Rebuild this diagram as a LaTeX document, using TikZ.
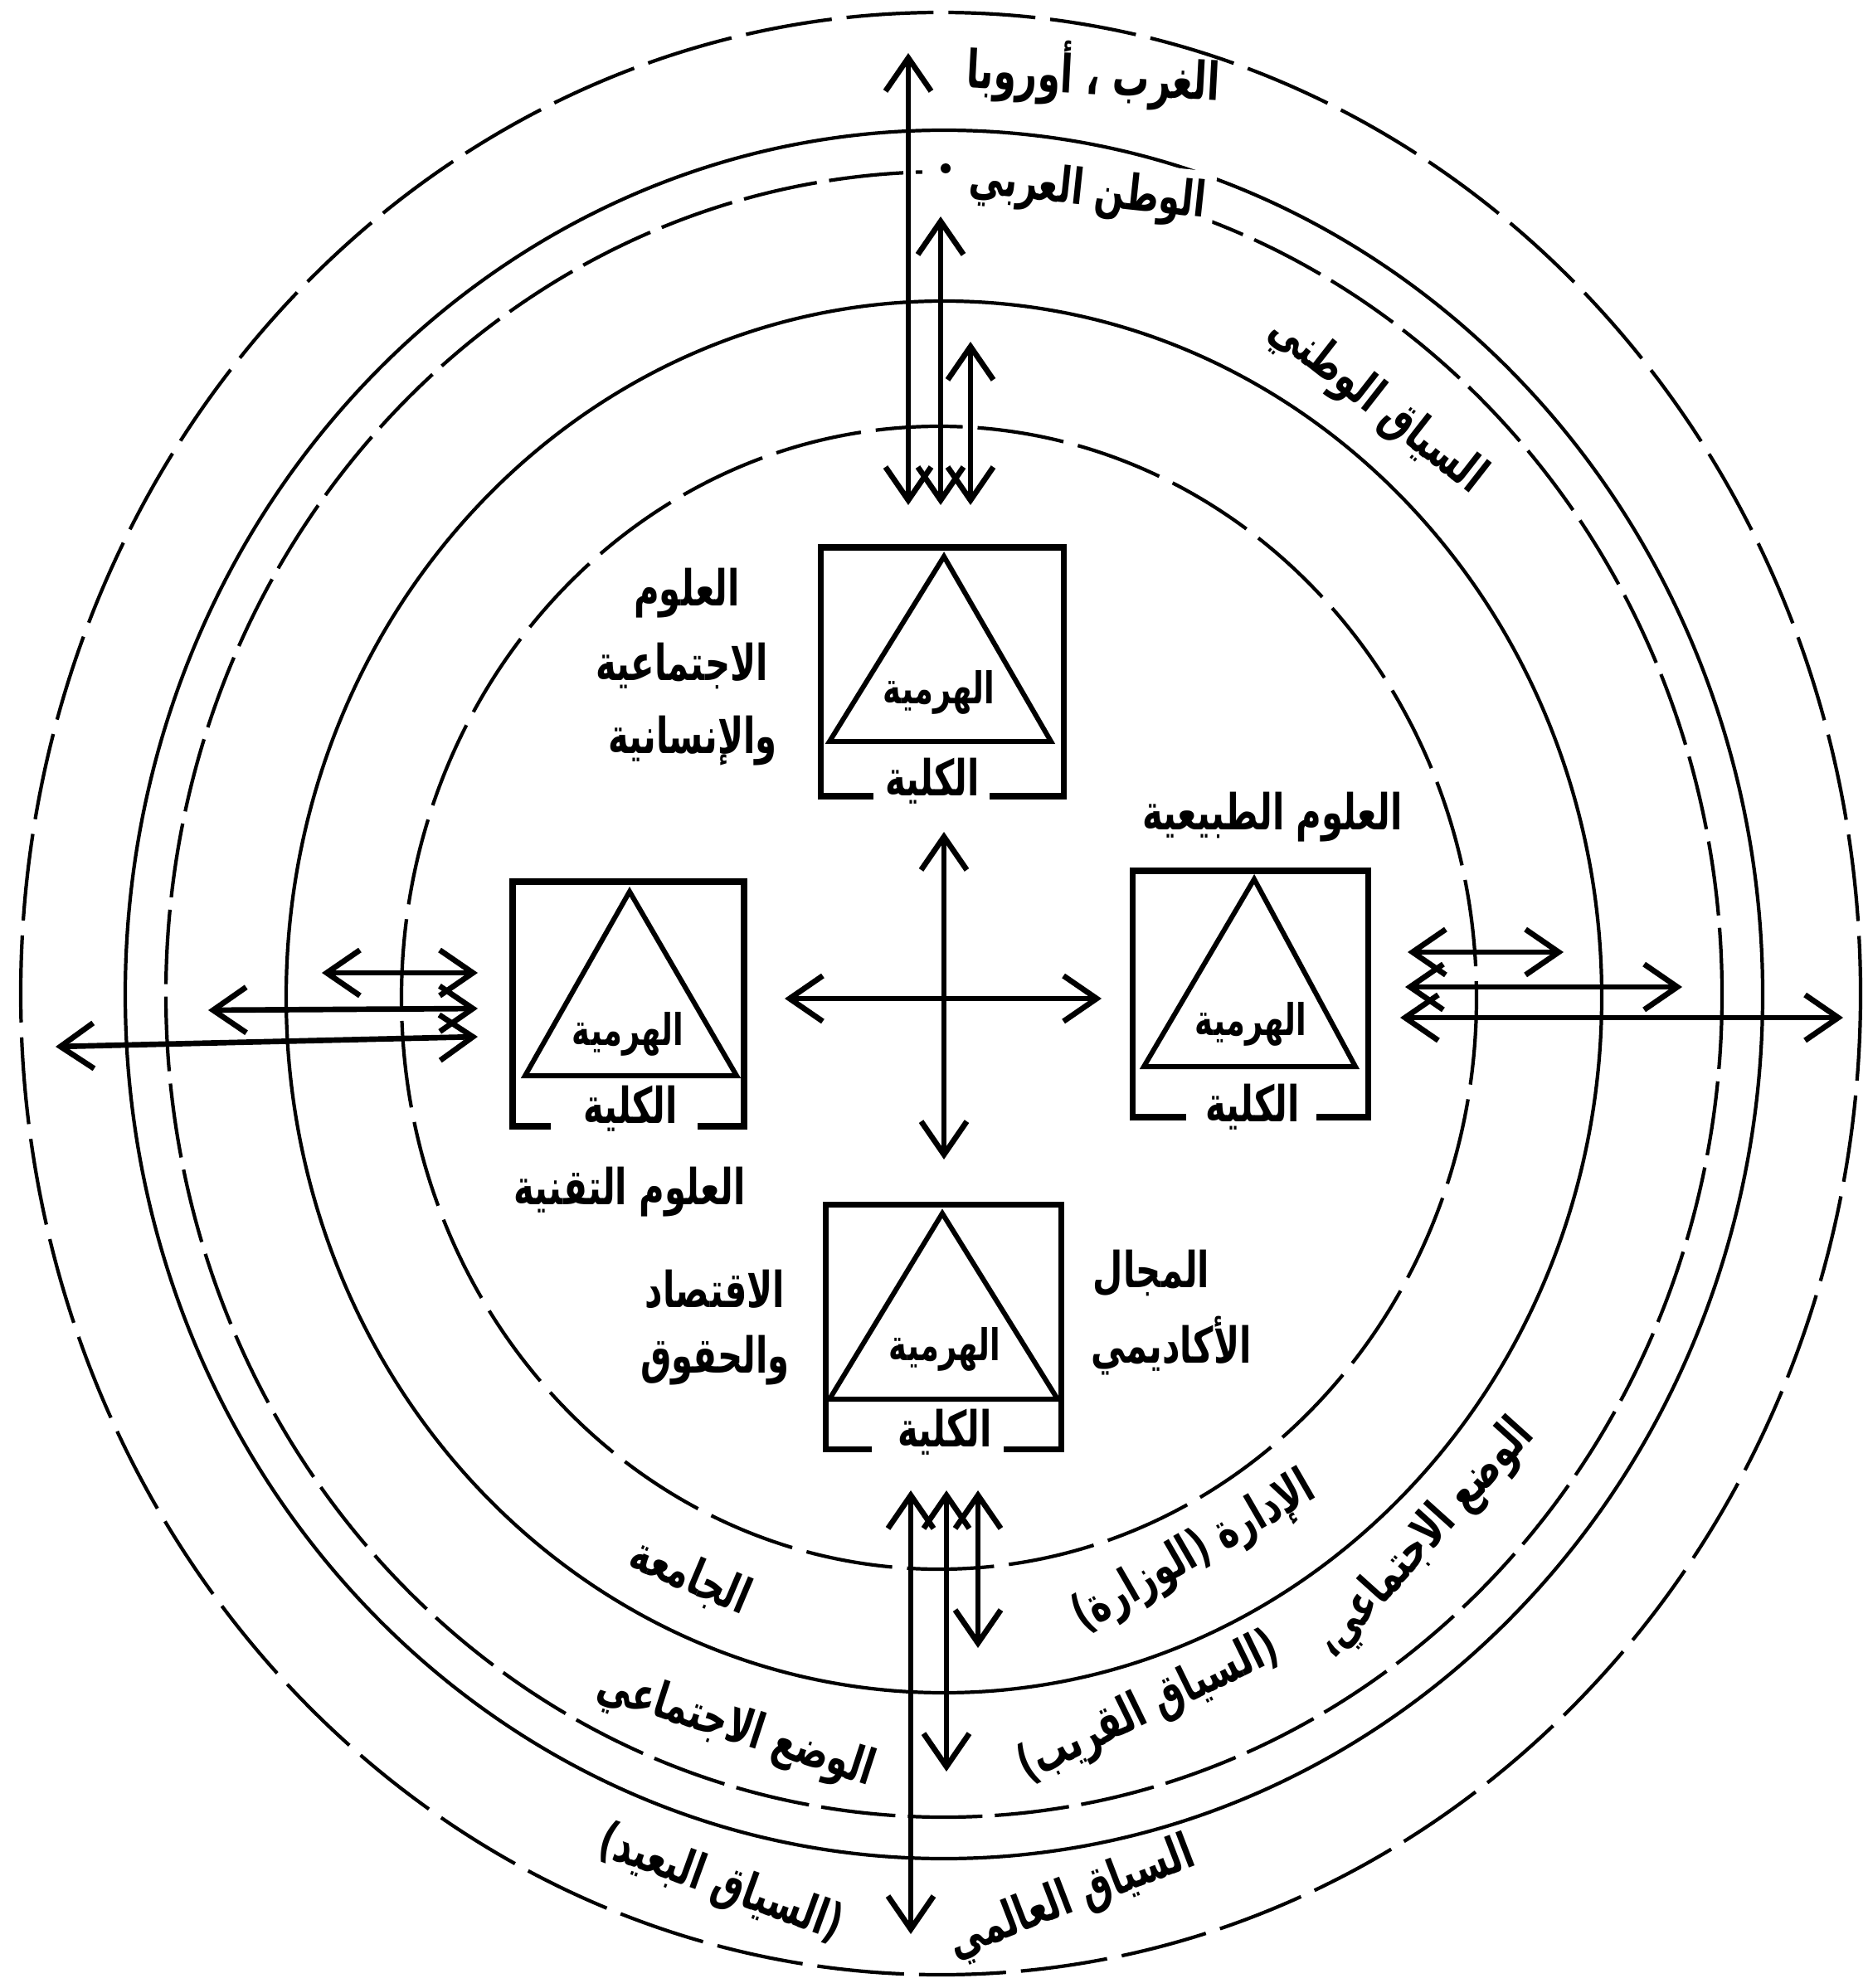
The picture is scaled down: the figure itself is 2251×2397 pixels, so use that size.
\documentclass[tikz,border=0pt]{standalone}
\usepackage{fontspec}
\newfontfamily\arfont[Script=Arabic,FakeStretch=0.70]{DejaVu Sans}
\TeXXeTstate=1
\usetikzlibrary{arrows.meta}
\newcommand{\AR}[1]{\arfont\bfseries\beginR #1\endR}
\begin{document}
\begin{tikzpicture}[x=0.1mm,y=-0.1mm,
  >={Straight Barb[length=4mm,width=5.5mm]},
  ring/.style={line width=1.2pt},
  dashring/.style={line width=1.2pt, dash pattern=on 10.5mm off 1.8mm},
  boxline/.style={line width=2pt, line cap=rect},
  tri/.style={line width=1.7pt, line join=miter},
  arr/.style={line width=1.9pt, <->},
  lbl/.style={font=\fontsize{17pt}{20pt}\selectfont, inner sep=0pt},
  pyr/.style={font=\fontsize{15pt}{18pt}\selectfont, inner sep=0pt},
]
\useasboundingbox (0,0) rectangle (2251,2397);

% rings
\draw[dashring] (1134,1198) ellipse [x radius=1109, y radius=1183];
\draw[ring]     (1138,1199) ellipse [x radius=987,  y radius=1042];
\draw[dashring, dash pattern=on 9mm off 1.5mm] (1138,1199) ellipse [x radius=938, y radius=992];
\draw[ring]     (1138,1202) ellipse [x radius=793,  y radius=839];
\draw[dashring] (1132,1203) ellipse [x radius=648,  y radius=689];

% ---------- top box ----------
\node[pyr] (tH) at (1132,835) {\AR{الهرمية}};
\node[lbl] (tK) at (1124,942) {\AR{الكلية}};
\draw[boxline] (1049,960) -- (989,960) -- (989,660) -- (1282,660) -- (1282,960) -- (1196,960);
\draw[tri] (1138,671) -- (1267,894) -- (1000,894) -- cycle;

% ---------- right box ----------
\node[pyr] (rH) at (1508,1235) {\AR{الهرمية}};
\node[lbl] (rK) at (1510,1335) {\AR{الكلية}};
\draw[boxline] (1426,1347) -- (1365,1347) -- (1365,1050) -- (1649,1050) -- (1649,1347) -- (1590,1347);
\draw[tri] (1512,1060) -- (1634,1286) -- (1379,1286) -- cycle;

% ---------- left box ----------
\node[pyr] (lH) at (757,1247) {\AR{الهرمية}};
\node[lbl] (lK) at (760,1337) {\AR{الكلية}};
\draw[boxline] (660,1358) -- (618,1358) -- (618,1063) -- (897,1063) -- (897,1358) -- (845,1358);
\draw[tri] (759,1075) -- (888,1297) -- (633,1297) -- cycle;

% ---------- bottom box ----------
\node[pyr] (bH) at (1139,1627) {\AR{الهرمية}};
\node[lbl] (bK) at (1139,1727) {\AR{الكلية}};
\draw[boxline] (1047,1747) -- (995,1747) -- (995,1452) -- (1279,1452) -- (1279,1747) -- (1213,1747);
\draw[tri] (1136,1463) -- (1275,1687) -- (1000,1687) -- cycle;

% ---------- central cross ----------
\coordinate (cW) at (946,1204);  \coordinate (cE) at (1328,1204);
\coordinate (cN) at (1138,1003); \coordinate (cS) at (1138,1398);
\draw[arr] (cW) -- (cE);
\draw[arr] (cN) -- (cS);

% ---------- top arrows ----------
\coordinate (ta1) at (1095,609); \coordinate (tb1) at (1095,64);
\coordinate (ta2) at (1134,609); \coordinate (tb2) at (1134,261);
\coordinate (ta3) at (1170,609); \coordinate (tb3) at (1170,412);
\draw[arr] (ta1) -- (tb1);
\draw[arr] (ta2) -- (tb2);
\draw[arr] (ta3) -- (tb3);

% ---------- bottom arrows ----------
\coordinate (ba1) at (1098,1797); \coordinate (bb1) at (1098,2332);
\coordinate (ba2) at (1141,1797); \coordinate (bb2) at (1141,2136);
\coordinate (ba3) at (1179,1797); \coordinate (bb3) at (1179,1987);
\draw[arr] (ba1) -- (bb1);
\draw[arr] (ba2) -- (bb2);
\draw[arr] (ba3) -- (bb3);

% ---------- left arrows ----------
\coordinate (la1) at (576,1173); \coordinate (lb1) at (388,1173);
\coordinate (la2) at (576,1216); \coordinate (lb2) at (251,1218);
\coordinate (la3) at (576,1250); \coordinate (lb3) at (67,1262);
\draw[arr] (la1) -- (lb1);
\draw[arr] (la2) -- (lb2);
\draw[arr] (la3) -- (lb3);

% ---------- right arrows ----------
\coordinate (ra1) at (1697,1148); \coordinate (rb1) at (1885,1148);
\coordinate (ra2) at (1694,1190); \coordinate (rb2) at (2028,1190);
\coordinate (ra3) at (1688,1227); \coordinate (rb3) at (2222,1227);
\draw[arr] (ra1) -- (rb1);
\draw[arr] (ra2) -- (rb2);
\draw[arr] (ra3) -- (rb3);

% ---------- field labels ----------
\node[lbl] (ss1) at (828,715) {\AR{العلوم}};
\node[lbl] (ss2) at (822,803) {\AR{الاجتماعية}};
\node[lbl] (ss3) at (835,893) {\AR{والإنسانية}};
\node[lbl] (nat) at (1534,985) {\AR{العلوم الطبيعية}};
\node[lbl] (tec) at (759,1437) {\AR{العلوم التقنية}};
\node[lbl] (ec1) at (862,1555) {\AR{الاقتصاد}};
\node[lbl] (ec2) at (862,1640) {\AR{والحقوق}};
\node[lbl] (ac1) at (1388,1535) {\AR{المجال}};
\node[lbl] (ac2) at (1412,1623) {\AR{الأكاديمي}};

% ---------- ring labels ----------
\node[lbl, rotate=-3, font=\fontsize{18pt}{21pt}\selectfont] (west) at (1318,90) {\AR{الغرب ، أوروبا}};
\node[lbl, rotate=-6, fill=white, inner sep=3pt] (arab) at (1311,232) {\AR{الوطن العربي}};
\fill[white] (1140,206) circle [radius=28];
\node[circle, fill, inner sep=0pt, minimum size=1.2mm] (dot) at (1140,203) {};
\node[lbl, rotate=-38] (nati) at (1660,488) {\AR{السياق الوطني}};
\node[lbl, rotate=-23] (univ) at (832,1902) {\AR{الجامعة}};
\node[lbl, rotate=30]  (admn) at (1440,1873) {\AR{الإدارة (الوزارة)}};
\node[lbl, rotate=-18] (socl) at (887,2085) {\AR{الوضع الاجتماعي}};
\node[lbl, rotate=48]  (socr) at (1718,1856) {\AR{الوضع الاجتماعي،}};
\node[lbl, rotate=26]  (near) at (1385,2060) {\AR{(السياق القريب)}};
\node[lbl, rotate=-20] (far)  at (869,2272)  {\AR{(السياق البعيد)}};
\node[lbl, rotate=21]  (glob) at (1292,2290) {\AR{السياق العالمي}};
\end{tikzpicture}
\end{document}
